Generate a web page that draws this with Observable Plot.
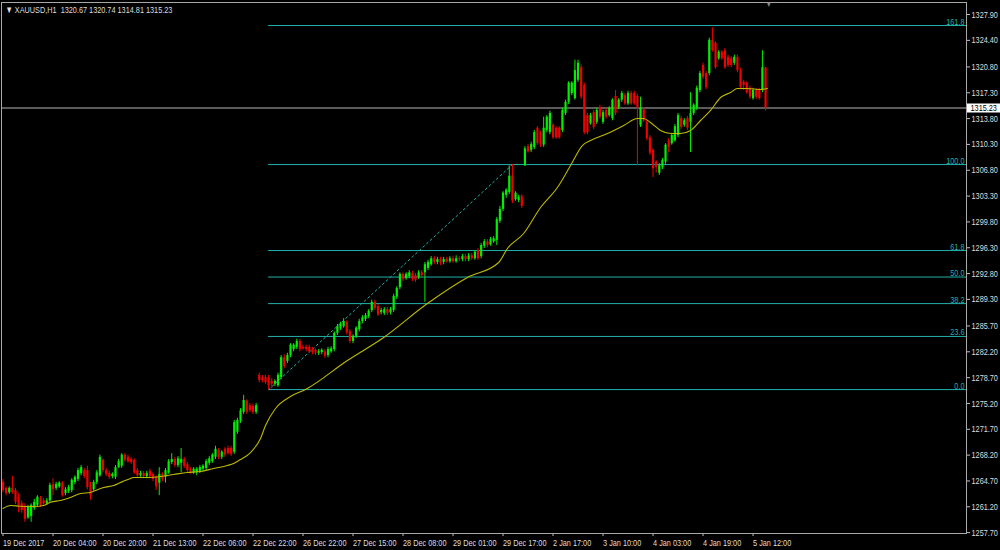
<!DOCTYPE html>
<html><head><meta charset="utf-8">
<script src="https://cdn.jsdelivr.net/npm/d3@7"></script>
<script src="https://cdn.jsdelivr.net/npm/@observablehq/plot@0.6"></script>
<style>
html,body{margin:0;padding:0;background:#000;overflow:hidden}
#chart{width:1000px;height:550px}
</style></head><body><div id="chart"></div>
<script>
const symbol = "XAUUSD,H1";
const open = [
1264.5,1263.7,1263.1,1263.7,1263.4,1262.5,1261.6,1261.2,1259.7,1259.9,
1261.0,1261.4,1262.3,1262.0,1261.6,1262.0,1264.2,1263.7,1263.9,1264.4,
1263.0,1263.3,1263.4,1264.5,1264.9,1265.7,1266.1,1266.1,1264.2,1263.5,
1264.5,1265.4,1267.5,1266.1,1265.7,1265.3,1265.2,1266.5,1266.7,1268.2,
1267.9,1267.6,1267.5,1266.1,1265.4,1265.7,1265.3,1266.0,1265.6,1265.2,
1264.4,1265.6,1265.2,1265.8,1267.2,1267.6,1266.8,1267.1,1267.6,1266.9,
1266.3,1265.8,1265.8,1266.0,1266.3,1266.4,1267.1,1267.3,1267.9,1268.8,
1267.9,1269.0,1269.1,1269.1,1268.6,1271.3,1272.8,1274.0,1275.5,1274.9,
1274.8,1274.0,1279.0,1278.7,1278.7,1278.7,1278.2,1277.8,1277.6,1278.7,
1281.4,1280.9,1281.7,1282.5,1282.8,1283.6,1282.8,1282.8,1282.8,1282.5,
1282.4,1282.0,1282.1,1282.2,1281.7,1282.2,1282.5,1284.7,1285.4,1285.6,
1286.2,1284.9,1283.6,1284.3,1285.2,1286.3,1286.6,1287.0,1287.8,1288.9,
1288.3,1287.5,1287.4,1287.9,1287.5,1287.8,1289.6,1290.9,1292.7,1292.1,
1292.4,1292.8,1292.5,1292.3,1292.9,1292.9,1293.5,1294.0,1294.8,1294.3,
1294.7,1294.3,1294.7,1294.4,1294.8,1294.4,1294.8,1294.7,1295.1,1294.7,
1295.2,1294.8,1295.9,1295.1,1296.5,1297.1,1296.7,1297.1,1297.3,1299.9,
1301.5,1303.4,1303.8,1306.0,1302.8,1302.7,1303.2,1307.4,1310.0,1309.5,
1309.9,1312.5,1311.8,1310.2,1312.2,1311.9,1312.9,1312.5,1312.5,1312.2,
1314.5,1316.0,1317.2,1316.5,1319.0,1320.7,1318.3,1314.2,1313.1,1314.6,
1313.3,1315.3,1313.3,1314.9,1314.2,1313.8,1316.8,1315.3,1316.3,1316.9,
1315.8,1317.2,1317.2,1316.8,1312.9,1315.0,1313.3,1311.2,1309.5,1307.9,
1306.4,1307.2,1307.9,1310.8,1310.4,1310.8,1311.5,1313.8,1312.9,1313.8,
1313.3,1314.5,1315.2,1317.6,1321.0,1319.9,1319.9,1324.4,1324.0,1321.9,
1322.8,1323.0,1322.1,1321.9,1321.3,1322.1,1320.3,1318.7,1318.6,1317.9,
1316.5,1317.6,1317.6,1317.6,1320.67];
const high = [
1264.9,1263.9,1263.9,1265.3,1263.7,1263.0,1262.0,1261.6,1261.4,1261.6,
1262.2,1262.7,1262.6,1262.3,1262.3,1264.4,1265.0,1264.5,1264.6,1264.6,
1263.8,1264.1,1265.0,1265.4,1266.4,1266.8,1266.4,1266.7,1264.5,1264.8,
1266.1,1268.2,1267.7,1266.4,1266.0,1265.8,1266.8,1267.6,1268.4,1268.4,
1268.2,1267.9,1267.7,1266.4,1266.0,1266.0,1266.0,1266.3,1265.8,1265.4,
1266.5,1265.8,1266.4,1267.6,1268.4,1267.9,1268.0,1269.1,1267.9,1267.2,
1266.5,1266.5,1266.5,1266.8,1266.9,1267.6,1268.0,1268.4,1269.4,1269.1,
1268.8,1269.2,1269.4,1269.4,1272.9,1273.2,1274.5,1276.3,1275.7,1275.2,
1275.1,1275.2,1279.3,1279.0,1279.0,1279.0,1278.6,1278.4,1279.3,1281.7,
1281.8,1282.0,1283.3,1283.3,1283.9,1283.9,1283.1,1283.1,1283.1,1282.8,
1282.6,1282.5,1282.6,1282.5,1282.8,1282.9,1284.9,1285.9,1286.2,1286.7,
1286.4,1285.2,1284.5,1285.6,1286.6,1287.1,1287.4,1287.9,1289.2,1289.2,
1288.6,1288.1,1288.2,1288.2,1288.2,1290.0,1291.0,1292.9,1292.9,1292.9,
1293.2,1293.1,1292.8,1293.2,1293.2,1294.3,1294.6,1295.1,1295.1,1295.0,
1295.0,1295.0,1295.0,1295.1,1295.1,1295.2,1295.1,1295.4,1295.4,1295.5,
1295.5,1295.9,1296.2,1296.9,1297.4,1297.4,1297.7,1297.8,1300.4,1301.9,
1303.9,1304.3,1307.4,1307.6,1303.9,1303.4,1303.5,1310.0,1310.3,1310.6,
1312.2,1312.7,1312.1,1314.0,1314.2,1314.8,1313.1,1312.7,1312.7,1315.2,
1316.3,1318.8,1318.8,1321.7,1321.7,1321.1,1318.6,1314.5,1314.5,1314.9,
1315.2,1315.6,1314.9,1315.2,1315.4,1316.5,1317.6,1316.5,1317.5,1317.2,
1317.5,1317.5,1317.5,1317.1,1316.7,1315.3,1313.5,1311.5,1309.7,1308.1,
1307.7,1308.4,1310.4,1311.1,1311.8,1313.0,1314.5,1314.1,1313.8,1314.1,
1317.3,1315.8,1318.2,1320.2,1321.3,1320.2,1324.7,1326.1,1324.2,1323.0,
1323.0,1323.3,1322.4,1322.2,1322.4,1322.4,1320.6,1319.0,1318.8,1318.2,
1317.9,1317.9,1317.9,1323.0,1320.74];
const low = [
1263.1,1262.7,1262.9,1262.9,1261.5,1260.4,1260.3,1259.1,1259.5,1259.1,
1260.7,1261.1,1261.1,1261.4,1261.4,1261.8,1262.7,1263.4,1263.7,1262.5,
1262.7,1263.0,1263.1,1264.2,1264.6,1265.4,1265.0,1263.5,1262.1,1263.3,
1264.2,1265.2,1265.8,1265.3,1264.9,1265.0,1264.9,1266.4,1266.4,1267.2,
1267.1,1266.9,1265.6,1265.2,1265.2,1265.0,1265.0,1265.0,1264.6,1263.4,
1262.7,1264.6,1264.4,1265.6,1266.9,1266.5,1266.5,1265.8,1266.4,1265.8,
1265.6,1265.6,1265.4,1265.7,1266.0,1266.1,1266.8,1267.1,1267.6,1267.6,
1267.6,1267.9,1268.2,1268.0,1268.3,1271.0,1272.5,1273.7,1273.7,1274.0,
1273.7,1273.7,1278.0,1278.0,1277.8,1277.0,1277.2,1277.5,1277.4,1278.4,
1279.9,1280.6,1281.4,1282.2,1282.5,1282.2,1282.4,1282.2,1282.0,1281.8,
1281.7,1281.7,1281.8,1281.3,1281.4,1282.0,1282.2,1284.4,1285.1,1285.4,
1284.5,1283.3,1283.3,1284.0,1284.9,1286.0,1286.3,1286.7,1287.5,1287.8,
1287.0,1287.2,1287.1,1287.1,1287.2,1287.5,1289.3,1290.6,1291.7,1291.9,
1292.1,1291.7,1291.6,1292.0,1292.3,1288.9,1293.2,1293.8,1294.0,1294.0,
1293.9,1294.0,1294.2,1294.2,1294.2,1294.2,1294.4,1294.4,1294.4,1294.4,
1294.6,1294.6,1294.6,1294.8,1296.2,1296.3,1296.5,1296.9,1296.6,1299.6,
1301.2,1303.0,1303.5,1302.3,1302.6,1302.4,1301.6,1307.3,1309.1,1309.2,
1309.6,1310.2,1309.9,1309.9,1311.9,1311.6,1311.0,1311.0,1311.0,1311.9,
1314.2,1315.7,1316.9,1316.3,1318.7,1316.4,1311.6,1311.6,1312.9,1312.3,
1313.0,1313.7,1313.0,1313.7,1314.0,1313.5,1314.2,1315.0,1316.0,1315.6,
1315.6,1315.6,1315.6,1307.4,1312.6,1313.3,1310.8,1308.8,1305.8,1306.4,
1306.1,1306.9,1307.6,1309.2,1310.2,1310.6,1311.2,1312.3,1312.6,1312.2,
1309.2,1314.2,1314.9,1317.3,1319.1,1317.7,1319.6,1322.8,1320.5,1321.7,
1321.7,1320.5,1320.7,1320.7,1321.0,1320.0,1317.7,1317.6,1317.1,1316.4,
1316.3,1316.4,1316.3,1317.3,1314.81];
const close = [
1263.4,1263.0,1263.7,1263.1,1261.8,1261.4,1260.7,1259.5,1261.1,1261.4,
1261.8,1262.5,1261.4,1261.6,1262.0,1264.1,1263.5,1264.2,1264.4,1262.7,
1263.5,1263.8,1264.8,1265.2,1266.1,1266.5,1265.3,1263.8,1262.7,1264.5,
1265.8,1267.9,1266.1,1265.6,1265.2,1265.6,1266.5,1267.3,1268.2,1267.5,
1267.3,1267.2,1265.8,1265.4,1265.7,1265.3,1265.7,1265.3,1264.9,1263.9,
1265.6,1264.9,1266.1,1267.3,1267.6,1266.8,1267.7,1267.6,1266.7,1266.1,
1265.8,1266.3,1266.3,1266.5,1266.7,1267.3,1267.7,1268.2,1269.0,1267.9,
1268.6,1268.2,1268.4,1268.3,1272.6,1272.9,1274.2,1275.6,1274.0,1274.2,
1274.0,1274.9,1278.3,1278.3,1278.0,1277.6,1277.8,1278.2,1279.0,1281.4,
1280.2,1281.7,1283.1,1283.1,1283.6,1282.5,1282.6,1282.5,1282.2,1282.1,
1282.0,1282.2,1282.4,1281.6,1282.5,1282.6,1284.7,1285.6,1285.9,1286.3,
1284.8,1283.6,1284.3,1285.4,1286.3,1286.8,1287.1,1287.7,1288.9,1288.1,
1287.2,1287.8,1287.9,1287.4,1287.9,1289.7,1290.8,1292.7,1292.0,1292.7,
1292.9,1292.0,1291.9,1292.9,1292.5,1294.0,1294.3,1294.8,1294.3,1294.7,
1294.2,1294.7,1294.4,1294.8,1294.4,1294.8,1294.7,1295.1,1294.7,1295.2,
1294.8,1295.7,1294.8,1296.6,1297.1,1296.6,1297.4,1297.5,1300.1,1301.5,
1303.7,1304.1,1306.0,1302.6,1303.7,1303.1,1301.9,1309.7,1309.3,1310.3,
1311.9,1310.4,1310.2,1312.5,1314.0,1314.5,1311.2,1311.2,1311.2,1314.9,
1316.0,1318.6,1318.6,1320.3,1321.3,1316.7,1311.9,1311.9,1314.2,1312.6,
1314.9,1314.0,1314.6,1314.0,1315.2,1316.3,1314.5,1316.3,1317.2,1315.8,
1317.2,1315.8,1315.8,1315.2,1315.2,1313.5,1311.1,1309.1,1307.0,1307.2,
1307.4,1308.1,1310.2,1309.9,1311.5,1312.7,1314.2,1312.6,1313.5,1312.5,
1314.5,1315.6,1317.9,1319.9,1319.4,1318.0,1324.4,1323.0,1320.7,1322.8,
1321.9,1320.7,1321.0,1321.0,1322.1,1320.3,1318.0,1318.3,1317.3,1316.7,
1317.6,1316.7,1316.5,1320.7,1315.23];

// yellow moving average at sample bars
const maIdx = [0,2.4,5.6,9.8,13,15.2,18.4,21.6,24.8,28,29.6,32.2,35.4,37.6,40.8,41.8,46.2,50.4,54.6,59,63.2,67.4,71.8,73.8,76,79.2,82.4,84,87.2,92,96.8,110.2,121.8,135.8,148.6,158.6,161.4,166.6,172,177.4,181.6,185.4,188,193.4,198.6,203,205,207.2,210.4,213.6,216.8,220,223.2,226.4,229.6,232.8,235,238.2,242.4,244.6];
const maVal = [1260.97,1261.37,1261.28,1261.24,1261.37,1261.82,1262.05,1262.46,1263.0,1263.13,1263.41,1263.81,1264.08,1264.49,1265.03,1265.17,1265.17,1265.3,1265.57,1265.84,1265.98,1266.39,1266.79,1267.06,1267.61,1268.55,1270.45,1272.21,1274.52,1276.14,1277.09,1281.02,1284.14,1288.74,1292.27,1294.3,1296.2,1298.23,1301.75,1304.46,1307.44,1310.15,1310.83,1311.78,1312.86,1313.81,1313.81,1313.27,1312.19,1311.78,1311.78,1312.19,1313.54,1314.9,1316.66,1317.33,1317.88,1317.88,1317.74,1317.88];

const timeTickIdx = [0,16,32,48,64,80,96,112,128,144,160,176,192,208,224,240];
const timeTickLabels = ["19 Dec 2017","20 Dec 04:00","20 Dec 20:00","21 Dec 13:00","22 Dec 06:00","22 Dec 22:00","26 Dec 22:00","27 Dec 15:00","28 Dec 08:00","29 Dec 01:00","29 Dec 17:00","2 Jan 17:00","3 Jan 10:00","4 Jan 03:00","4 Jan 19:00","5 Jan 12:00"];
const priceTicks = [1327.90,1324.40,1320.80,1317.30,1313.80,1310.30,1306.80,1303.30,1299.80,1296.30,1292.80,1289.30,1285.70,1282.20,1278.70,1275.20,1271.70,1268.20,1264.70,1261.20,1257.70];

const fibLabels = ["0.0","23.6","38.2","50.0","61.8","100.0","161.8"];
const fibPrices = [1277.08,1284.28,1288.73,1292.33,1295.92,1307.57,1326.41];
const fibAnchorIdx = [85,163];
const fibAnchorPrice = [1277.08,1307.57];

const xDomain = [-0.48, 308.3];
const yDomain = [1257.58, 1329.53];

const UP = "#00f000", DOWN = "#f00000", FIB = "#20b2aa", MA = "#bdb800", TXT = "#dedede";
const SQUEEZE = 0.77;

const bars = open.map((o, i) => ({i, o, h: high[i], l: low[i], c: close[i], col: close[i] >= o ? UP : DOWN}));
const ma = maIdx.map((x, j) => ({x, y: maVal[j]}));
const fib = fibPrices.map((p, j) => ({p, label: fibLabels[j]}));
const fibDiag = fibAnchorIdx.map((x, j) => ({x, y: fibAnchorPrice[j]}));
const last = bars[bars.length - 1];
const fmt = d3.format(".2f");
const title = `\u25BC ${symbol}  ${fmt(last.o)} ${fmt(last.h)} ${fmt(last.l)} ${fmt(last.c)}`;
const tickLabel = new Map(timeTickIdx.map((d, j) => [d, timeTickLabels[j]]));

const plot = Plot.plot({
  width: 1000, height: 550,
  marginLeft: 1, marginRight: 34, marginTop: 2, marginBottom: 17,
  style: {background: "#000", color: TXT, fontFamily: "'Liberation Sans', Arial, sans-serif", fontSize: "9.5px"},
  x: {domain: xDomain, axis: null},
  y: {domain: yDomain, axis: null},
  color: {type: "identity"},
  marks: [
    Plot.ruleY(fib, {y: "p", x1: fibAnchorIdx[0], x2: xDomain[1], stroke: FIB, strokeWidth: 1}),
    Plot.line(fibDiag, {x: "x", y: "y", stroke: FIB, strokeWidth: 1, strokeDasharray: "2,3"}),
    Plot.text(fib, {y: "p", text: "label", frameAnchor: "right", textAnchor: "end", lineAnchor: "bottom", dx: -2, dy: -1, fill: FIB}),
    Plot.ruleY([last.c], {stroke: "#7a7a7a", strokeWidth: 1.5}),
    Plot.ruleX(bars, {x: "i", y1: "l", y2: "h", stroke: "col", strokeWidth: 1}),
    Plot.ruleX(bars, {x: "i", y1: "o", y2: "c", stroke: "col", strokeWidth: 2.2}),
    Plot.line(ma, {x: "x", y: "y", stroke: MA, strokeWidth: 1.1, curve: "monotone-x"}),
    Plot.axisY({anchor: "right", ticks: priceTicks, tickFormat: fmt, tickSize: 3, tickPadding: 2, stroke: "#c0c0c0", label: null}),
    Plot.axisX({anchor: "bottom", ticks: timeTickIdx, tickFormat: d => tickLabel.get(d), tickSize: 3, tickPadding: 3, textAnchor: "start", stroke: "#c0c0c0", label: null}),
    Plot.frame({stroke: "#a8a8a8"}),
    // current price box on the price scale (white band + black text in the right margin)
    Plot.ruleY([last.c], {x1: xDomain[1], x2: xDomain[1], insetLeft: 1, insetRight: -34, stroke: "#ffffff", strokeWidth: 9}),
    Plot.text([last.c], {y: d => d, text: fmt, frameAnchor: "right", textAnchor: "start", dx: 4, fill: "#000"}),
    Plot.text([title], {frameAnchor: "top-left", dx: 4, dy: 4, fill: TXT}),
    Plot.text(["\u25BC"], {x: [bars.length], frameAnchor: "top", dy: -1, fill: "#8a8a8a", fontSize: 8})
  ]
});

document.getElementById("chart").appendChild(plot);

// narrow the MetaTrader-like labels horizontally around their anchor point
plot.querySelectorAll("text").forEach(t => {
  const tr = t.getAttribute("transform") || "";
  const x = parseFloat(t.getAttribute("x")) || 0;
  t.setAttribute("transform", `${tr} translate(${x},0) scale(${SQUEEZE},1) translate(${-x},0)`);
});
</script></body></html>
